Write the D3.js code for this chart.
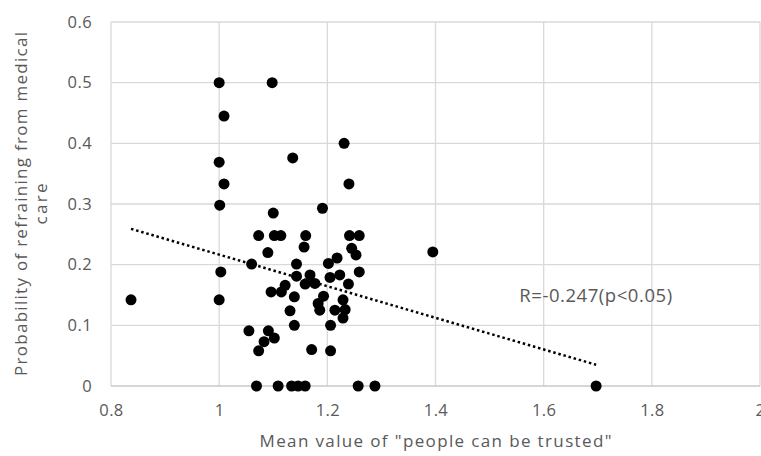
<!DOCTYPE html>
<html>
<head>
<meta charset="utf-8">
<script src="https://cdn.jsdelivr.net/npm/d3@7"></script>
<style>
  html, body { margin: 0; padding: 0; background: #fff; }
  svg { display: block; }
</style>
</head>
<body>
<div id="chart"></div>
<script>
// Scatter: mean "people can be trusted" vs probability of refraining from medical care

const trustMean = [
  0.837, 1.000, 1.009, 1.000, 1.009, 1.001, 1.003, 1.000, 1.098, 1.136,
  1.231, 1.240, 1.191, 1.395, 1.697,
  1.069, 1.109, 1.134, 1.146, 1.159, 1.257, 1.288,
  1.100, 1.073, 1.102, 1.114, 1.090, 1.060, 1.143, 1.160, 1.157,
  1.241, 1.259, 1.245, 1.253, 1.202, 1.218, 1.259, 1.223, 1.143,
  1.122, 1.096, 1.115, 1.139, 1.131, 1.139, 1.055, 1.091, 1.102,
  1.083, 1.073, 1.159, 1.168, 1.177, 1.205, 1.239, 1.193, 1.183,
  1.186, 1.229, 1.214, 1.233, 1.229, 1.206, 1.171, 1.206
];

const refrainProb = [
  0.142, 0.500, 0.445, 0.369, 0.333, 0.298, 0.188, 0.142, 0.500, 0.376,
  0.400, 0.333, 0.293, 0.221, 0.000,
  0, 0, 0, 0, 0, 0, 0,
  0.285, 0.248, 0.248, 0.248, 0.220, 0.201, 0.201, 0.248, 0.229,
  0.248, 0.248, 0.227, 0.216, 0.202, 0.211, 0.188, 0.183, 0.181,
  0.166, 0.155, 0.155, 0.147, 0.124, 0.100, 0.091, 0.091, 0.079,
  0.073, 0.058, 0.168, 0.183, 0.169, 0.179, 0.168, 0.148, 0.136,
  0.125, 0.142, 0.125, 0.126, 0.112, 0.100, 0.060, 0.058
];

// linear trend line end points
const trendX = [0.837, 1.697];
const trendY = [0.259, 0.035];

const xTicks = [0.8, 1.0, 1.2, 1.4, 1.6, 1.8, 2.0];
const yTicks = [0, 0.1, 0.2, 0.3, 0.4, 0.5, 0.6];

const xTitle = 'Mean value of "people can be trusted"';
const yTitle = ["Probability of refraining from medical", "care"];
const note = "R=-0.247(p<0.05)";

const W = 761, H = 456;
const m = { top: 22, right: 1, bottom: 70, left: 111 };
const iw = W - m.left - m.right;
const ih = H - m.top - m.bottom;

const FONT = "'Open Sans', 'Noto Sans', sans-serif";
const TXT = "#595959";
const GRID = "#d9d9d9";

const svg = d3.select("#chart").append("svg")
  .attr("width", W)
  .attr("height", H);

const g = svg.append("g").attr("transform", `translate(${m.left},${m.top})`);

const x = d3.scaleLinear().domain([0.8, 2.0]).range([0, iw]);
const y = d3.scaleLinear().domain([0, 0.6]).range([ih, 0]);

const fmt = v => String(+v.toFixed(1));

// grid
g.selectAll(".grid-v")
  .data(xTicks)
  .join("line")
    .attr("x1", d => x(d)).attr("x2", d => x(d))
    .attr("y1", 0).attr("y2", ih)
    .attr("stroke", GRID)
    .attr("stroke-width", 1.3);

g.selectAll(".grid-h")
  .data(yTicks)
  .join("line")
    .attr("x1", 0).attr("x2", iw)
    .attr("y1", d => y(d)).attr("y2", d => y(d))
    .attr("stroke", d => d === 0 ? "#c8c8c8" : GRID)
    .attr("stroke-width", 1.3);

// axes (labels only)
const xAxisG = g.append("g")
  .attr("transform", `translate(0,${ih})`)
  .call(d3.axisBottom(x).tickValues(xTicks).tickFormat(fmt).tickSize(0).tickPadding(18));
xAxisG.select(".domain").remove();
xAxisG.selectAll("text")
  .attr("fill", TXT)
  .attr("font-size", "16.5px")
  .attr("letter-spacing", "0.4px")
  .attr("font-family", FONT);

const yAxisG = g.append("g")
  .call(d3.axisLeft(y).tickValues(yTicks).tickFormat(fmt).tickSize(0).tickPadding(19));
yAxisG.select(".domain").remove();
yAxisG.selectAll("text")
  .attr("fill", TXT)
  .attr("font-size", "16.5px")
  .attr("letter-spacing", "0.4px")
  .attr("font-family", FONT);

// trend line
g.append("path")
  .datum(trendX.map((v, i) => [v, trendY[i]]))
  .attr("d", d3.line().x(d => x(d[0])).y(d => y(d[1])))
  .attr("fill", "none")
  .attr("stroke", "#000")
  .attr("stroke-width", 2.5)
  .attr("stroke-dasharray", "2.5,2.8");

// points
g.selectAll(".dot")
  .data(trustMean.map((v, i) => [v, refrainProb[i]]))
  .join("circle")
    .attr("cx", d => x(d[0]))
    .attr("cy", d => y(d[1]))
    .attr("r", 5.5)
    .attr("fill", "#000");

// annotation
g.append("text")
  .attr("x", x(1.555))
  .attr("y", y(0.146))
  .attr("dominant-baseline", "middle")
  .attr("fill", TXT)
  .attr("font-size", "18.5px")
  .attr("letter-spacing", "0.55px")
  .attr("font-family", FONT)
  .text(note);

// axis titles, centred on the plot area like the original
svg.append("text")
  .attr("x", m.left + iw / 2)
  .attr("y", 447)
  .attr("text-anchor", "middle")
  .attr("fill", TXT)
  .attr("font-size", "17px")
  .attr("font-family", FONT)
  .attr("textLength", 352)
  .attr("lengthAdjust", "spacing")
  .text(xTitle);

const yt = svg.append("text")
  .attr("transform", `translate(27,${m.top + ih / 2}) rotate(-90)`)
  .attr("text-anchor", "middle")
  .attr("fill", TXT)
  .attr("font-size", "17px")
  .attr("font-family", FONT);
yTitle.forEach((line, i) => {
  yt.append("tspan")
    .attr("x", 0)
    .attr("dy", i === 0 ? 0 : 19.5)
    .attr("textLength", i === 0 ? 344 : 41)
    .attr("lengthAdjust", "spacing")
    .text(line);
});
</script>
</body>
</html>
